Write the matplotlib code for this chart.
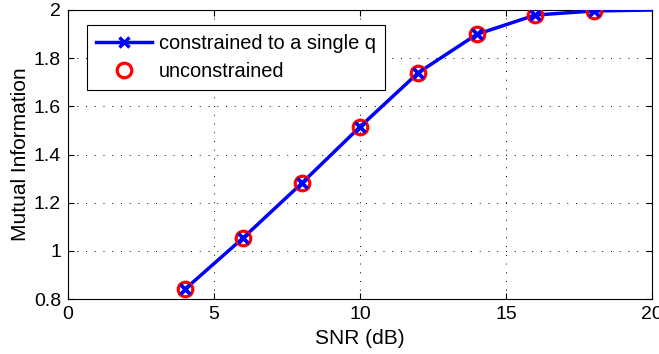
import matplotlib
matplotlib.use("Agg")
import matplotlib.pyplot as plt

snr_line = [4, 6, 8, 10, 12, 14, 16, 18, 20]
mi_constrained = [0.840, 1.054, 1.280, 1.515, 1.740, 1.899, 1.979, 1.996, 2.0]
snr_unc = [4, 6, 8, 10, 12, 14, 16, 18]
mi_unconstrained = [0.840, 1.054, 1.280, 1.515, 1.740, 1.899, 1.979, 1.996]
xticks = [0, 5, 10, 15, 20]
yticks = [0.8, 1.0, 1.2, 1.4, 1.6, 1.8, 2.0]
yticklabels = ["0.8", "1", "1.2", "1.4", "1.6", "1.8", "2"]

plt.rcParams['font.family'] = ['Liberation Sans', 'DejaVu Sans']
plt.rcParams['font.size'] = 14

fig = plt.figure(figsize=(6.59, 3.54), dpi=100)
ax = fig.add_axes([68/659, 1-299/354, 584/659, 289/354])

ax.plot(snr_line, mi_constrained, color='#0000ff', lw=2.5, marker='x',
        markersize=6.5, markeredgewidth=2.5, markevery=list(range(8)),
        label='constrained to a single q', zorder=3)
ax.plot(snr_unc, mi_unconstrained, linestyle='none', marker='o', markersize=10.5,
        markerfacecolor='none', markeredgecolor='#ff0000', markeredgewidth=2.3,
        label='unconstrained', zorder=4)
ax.plot(snr_unc, mi_constrained[:8], linestyle='none', marker='x', markersize=6.5,
        markeredgewidth=2.5, color='#0000ff', zorder=5)

ax.set_xlim(0, 20)
ax.set_ylim(0.8, 2.0)
ax.set_xticks(xticks)
ax.set_yticks(yticks)
ax.set_yticklabels(yticklabels)
ax.tick_params(direction='in', top=True, right=True, length=4, width=0.8, labelsize=14, pad=5)
ax.grid(True, color='black', linestyle=(0, (1, 8)), linewidth=0.7)
for s in ax.spines.values():
    s.set_linewidth(0.8)

ax.set_xlabel('SNR (dB)', fontsize=15, labelpad=4)
ax.set_ylabel('Mutual Information', fontsize=15, labelpad=3)

leg = ax.legend(loc='upper left', bbox_to_anchor=(0.032, 0.948), borderaxespad=0,
                fancybox=False, edgecolor='black', framealpha=1, fontsize=14.4,
                handlelength=2.8, handletextpad=0.35, borderpad=0.45, labelspacing=0.45)
leg.get_frame().set_linewidth(0.8)

fig.savefig('out.png', dpi=100)
